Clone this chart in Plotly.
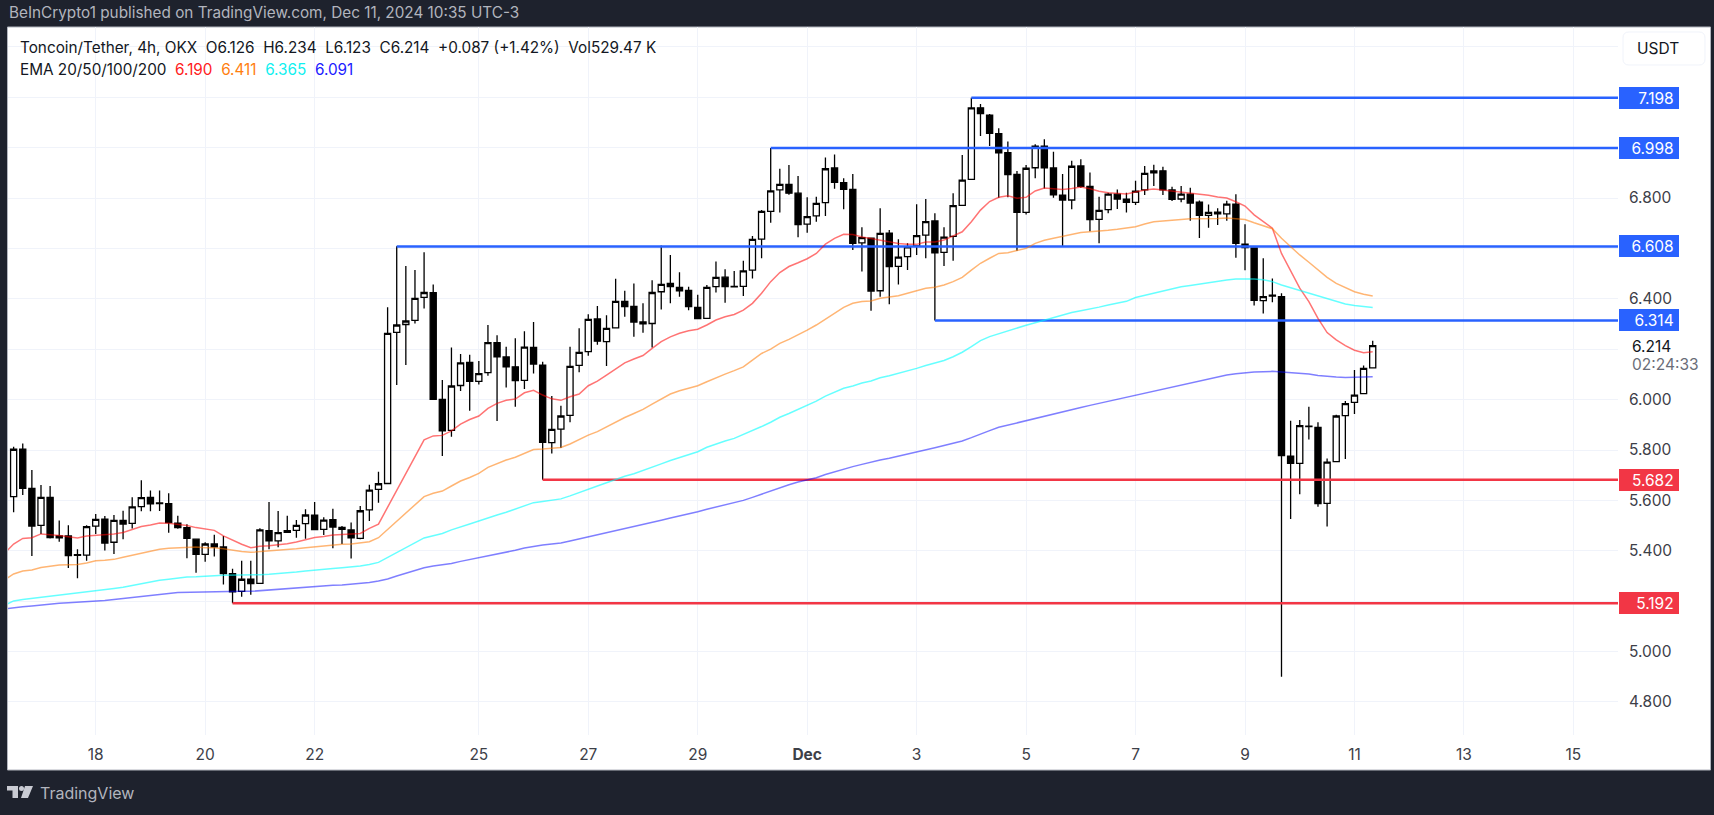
#!/usr/bin/python3
import pandas as pd
import plotly.graph_objects as go

# 4h candles
open_prices = [
    5.615, 5.803, 5.648, 5.501, 5.612, 5.459, 5.459, 5.385, 5.383, 5.498,
    5.526, 5.434, 5.521, 5.509, 5.575, 5.612, 5.590, 5.587, 5.510, 5.492,
    5.446, 5.386, 5.427, 5.415, 5.309, 5.239, 5.287, 5.271, 5.480, 5.439,
    5.480, 5.481, 5.508, 5.541, 5.485, 5.524, 5.493, 5.483, 5.449, 5.562,
    5.644, 5.667, 6.267, 6.298, 6.314, 6.406, 6.424, 6.001, 5.878, 6.056,
    6.148, 6.072, 6.107, 6.226, 6.169, 6.130, 6.076, 6.207, 6.137, 5.829,
    5.883, 5.937, 6.136, 6.190, 6.320, 6.230, 6.285, 6.390, 6.370, 6.308,
    6.302, 6.428, 6.461, 6.445, 6.433, 6.366, 6.322, 6.448, 6.486, 6.449,
    6.449, 6.514, 6.637, 6.747, 6.832, 6.854, 6.819, 6.696, 6.729, 6.782,
    6.919, 6.861, 6.834, 6.622, 6.641, 6.432, 6.661, 6.529, 6.567, 6.610,
    6.653, 6.709, 6.584, 6.648, 6.771, 6.874, 7.158, 7.129, 7.055, 6.980,
    6.894, 6.743, 6.920, 7.006, 6.919, 6.811, 6.792, 6.927, 6.846, 6.715,
    6.754, 6.815, 6.795, 6.783, 6.832, 6.900, 6.908, 6.832, 6.796, 6.815,
    6.784, 6.731, 6.744, 6.737, 6.776, 6.617, 6.602, 6.393, 6.414, 6.409,
    5.776, 5.747, 5.895, 5.890, 5.588, 5.754, 5.936, 5.989, 6.024, 6.126,
]
high_prices = [
    5.813, 5.826, 5.721, 5.661, 5.657, 5.520, 5.501, 5.406, 5.501, 5.546,
    5.538, 5.542, 5.559, 5.612, 5.680, 5.639, 5.639, 5.628, 5.539, 5.505,
    5.446, 5.434, 5.464, 5.459, 5.329, 5.360, 5.360, 5.489, 5.594, 5.558,
    5.539, 5.522, 5.565, 5.594, 5.533, 5.567, 5.498, 5.512, 5.578, 5.662,
    5.714, 6.366, 6.609, 6.530, 6.514, 6.585, 6.457, 6.078, 6.207, 6.181,
    6.178, 6.153, 6.296, 6.255, 6.210, 6.243, 6.271, 6.308, 6.150, 6.014,
    5.976, 6.210, 6.283, 6.339, 6.371, 6.335, 6.480, 6.432, 6.461, 6.382,
    6.474, 6.612, 6.574, 6.505, 6.448, 6.416, 6.455, 6.548, 6.517, 6.510,
    6.551, 6.649, 6.752, 6.998, 6.916, 6.931, 6.887, 6.803, 6.805, 6.961,
    6.973, 6.878, 6.895, 6.684, 6.643, 6.759, 6.673, 6.636, 6.620, 6.775,
    6.796, 6.739, 6.684, 6.819, 6.971, 7.198, 7.173, 7.133, 7.077, 7.024,
    6.907, 6.931, 7.013, 7.033, 6.984, 6.895, 6.948, 6.954, 6.901, 6.805,
    6.821, 6.834, 6.821, 6.868, 6.927, 6.932, 6.924, 6.845, 6.848, 6.841,
    6.790, 6.774, 6.759, 6.789, 6.815, 6.696, 6.603, 6.561, 6.481, 6.422,
    5.916, 5.919, 5.972, 5.910, 5.766, 5.940, 5.994, 6.117, 6.135, 6.234,
]
low_prices = [
    5.553, 5.621, 5.379, 5.467, 5.449, 5.436, 5.332, 5.291, 5.360, 5.467,
    5.401, 5.387, 5.446, 5.488, 5.557, 5.557, 5.558, 5.472, 5.487, 5.370,
    5.313, 5.357, 5.377, 5.266, 5.192, 5.218, 5.226, 5.268, 5.406, 5.414,
    5.472, 5.452, 5.448, 5.483, 5.463, 5.410, 5.427, 5.369, 5.446, 5.518,
    5.591, 5.667, 6.058, 6.137, 6.302, 6.362, 5.999, 5.776, 5.853, 6.034,
    5.956, 6.060, 6.095, 5.915, 6.048, 5.972, 6.042, 6.104, 5.682, 5.786,
    5.808, 5.910, 6.109, 6.174, 6.218, 6.133, 6.283, 6.329, 6.249, 6.265,
    6.207, 6.358, 6.382, 6.408, 6.355, 6.320, 6.321, 6.425, 6.384, 6.445,
    6.411, 6.481, 6.561, 6.702, 6.742, 6.813, 6.644, 6.662, 6.706, 6.729,
    6.837, 6.755, 6.594, 6.508, 6.353, 6.408, 6.378, 6.457, 6.514, 6.574,
    6.561, 6.314, 6.530, 6.551, 6.768, 6.872, 7.046, 7.006, 6.801, 6.803,
    6.591, 6.735, 6.878, 6.838, 6.801, 6.610, 6.755, 6.841, 6.668, 6.620,
    6.739, 6.756, 6.742, 6.772, 6.812, 6.848, 6.812, 6.788, 6.783, 6.710,
    6.641, 6.682, 6.693, 6.710, 6.563, 6.513, 6.373, 6.342, 6.386, 4.900,
    5.526, 5.624, 5.842, 5.575, 5.496, 5.751, 5.764, 5.943, 6.022, 6.123,
]
close_prices = [
    5.803, 5.648, 5.498, 5.612, 5.452, 5.451, 5.381, 5.382, 5.496, 5.525,
    5.431, 5.521, 5.506, 5.574, 5.611, 5.586, 5.587, 5.512, 5.492, 5.449,
    5.386, 5.427, 5.416, 5.309, 5.237, 5.287, 5.270, 5.483, 5.439, 5.472,
    5.473, 5.501, 5.542, 5.484, 5.522, 5.494, 5.485, 5.451, 5.559, 5.641,
    5.666, 6.263, 6.296, 6.312, 6.402, 6.425, 6.001, 5.876, 6.054, 6.146,
    6.072, 6.103, 6.226, 6.170, 6.130, 6.075, 6.208, 6.141, 5.830, 5.882,
    5.935, 6.132, 6.187, 6.318, 6.232, 6.283, 6.390, 6.369, 6.308, 6.301,
    6.425, 6.457, 6.448, 6.432, 6.369, 6.321, 6.445, 6.485, 6.448, 6.447,
    6.511, 6.636, 6.747, 6.828, 6.854, 6.819, 6.694, 6.726, 6.779, 6.916,
    6.862, 6.834, 6.620, 6.643, 6.431, 6.660, 6.528, 6.565, 6.606, 6.651,
    6.706, 6.582, 6.645, 6.770, 6.871, 7.158, 7.135, 7.057, 6.979, 6.893,
    6.743, 6.918, 7.006, 6.920, 6.813, 6.792, 6.926, 6.846, 6.714, 6.751,
    6.815, 6.796, 6.783, 6.827, 6.898, 6.908, 6.832, 6.795, 6.815, 6.780,
    6.731, 6.743, 6.737, 6.776, 6.620, 6.603, 6.394, 6.409, 6.411, 5.778,
    5.747, 5.897, 5.893, 5.587, 5.752, 5.935, 5.984, 6.018, 6.124, 6.214,
]

# EMAs start one bar earlier (clipped by the left edge), None = straight run
ema_20 = [
    5.390, 5.427, 5.449, 5.452, 5.467, 5.465, 5.461, 5.456, 5.451, 5.459,
    5.461, 5.463, 5.467, 5.473, 5.483, 5.496, 5.502, 5.510, 5.509, 5.504,
    5.500, 5.492, 5.487, 5.481, 5.459, 5.442, 5.426, 5.412, 5.418, 5.420,
    5.423, 5.428, 5.435, 5.444, 5.453, 5.457, 5.463, 5.465, 5.467, 5.469,
    5.489, 5.506, None, None, None, None, 5.840, 5.856, 5.858, 5.876,
    5.903, 5.921, 5.935, 5.965, 5.985, 5.997, 6.002, 6.027, 6.037, 6.018,
    6.003, 5.997, 6.011, 6.022, 6.055, 6.073, 6.097, 6.121, 6.146, 6.161,
    6.175, 6.203, 6.230, 6.249, 6.263, 6.273, 6.279, 6.296, 6.316, 6.329,
    6.338, 6.355, 6.382, 6.422, 6.468, 6.504, 6.528, 6.543, 6.559, 6.580,
    6.617, 6.640, 6.656, 6.655, 6.645, 6.639, 6.632, 6.625, 6.619, 6.616,
    6.616, 6.625, 6.625, 6.633, 6.649, 6.666, 6.706, 6.752, 6.786, 6.803,
    6.809, 6.799, 6.803, 6.828, 6.840, 6.837, 6.834, 6.838, 6.844, 6.837,
    6.827, 6.821, 6.819, 6.816, 6.824, 6.832, 6.836, 6.832, 6.828, 6.824,
    6.820, 6.816, 6.811, 6.804, 6.800, 6.785, 6.768, 6.733, 6.706, 6.680,
    6.580, 6.508, 6.442, 6.389, 6.322, 6.266, 6.237, 6.214, 6.196, 6.186, 6.190,
]
ema_50 = [
    5.284, 5.308, 5.320, 5.324, 5.334, 5.340, 5.344, 5.345, 5.346, 5.352,
    5.360, 5.362, 5.366, 5.374, 5.382, 5.390, 5.397, 5.406, 5.410, 5.412,
    5.415, 5.415, 5.412, 5.412, 5.408, 5.402, 5.397, 5.394, 5.397, 5.399,
    5.401, 5.403, 5.408, 5.412, 5.416, 5.419, 5.423, 5.426, 5.427, 5.430,
    5.436, 5.452, None, None, None, None, 5.615, 5.628, 5.637, 5.657,
    5.677, 5.691, 5.707, 5.731, 5.747, 5.760, 5.771, 5.786, 5.802, 5.804,
    5.806, 5.810, 5.824, 5.842, 5.859, 5.873, 5.892, 5.912, 5.929, 5.945,
    5.961, 5.982, 6.002, 6.022, 6.035, 6.044, 6.055, 6.071, 6.087, 6.101,
    6.115, 6.130, 6.157, 6.183, 6.200, 6.223, 6.239, 6.256, 6.276, 6.296,
    6.319, 6.340, 6.366, 6.382, 6.389, 6.391, 6.402, 6.407, 6.412, 6.422,
    6.432, 6.442, 6.446, 6.455, 6.468, 6.485, 6.514, 6.541, 6.561, 6.580,
    6.583, 6.592, 6.600, 6.620, 6.632, 6.640, 6.647, 6.657, 6.663, 6.666,
    6.668, 6.672, 6.676, 6.681, 6.686, 6.697, 6.706, 6.709, 6.713, 6.717,
    6.718, 6.718, 6.718, 6.719, 6.721, 6.719, 6.715, 6.702, 6.690, 6.678,
    6.640, 6.607, 6.574, 6.545, 6.514, 6.485, 6.461, 6.443, 6.428, 6.418, 6.411,
]
ema_100 = [
    5.184, 5.201, 5.207, 5.211, 5.218, 5.222, 5.226, 5.230, 5.233, 5.237,
    5.240, 5.244, 5.250, 5.255, 5.262, 5.270, 5.278, 5.283, 5.287, 5.292,
    5.296, 5.297, 5.300, 5.301, 5.303, 5.303, 5.303, 5.303, 5.305, 5.307,
    5.309, 5.312, 5.316, 5.320, 5.324, 5.328, 5.330, 5.333, 5.336, 5.340,
    5.346, 5.354, None, None, None, None, 5.451, 5.461, 5.469, 5.483,
    5.496, 5.506, 5.518, 5.531, 5.542, 5.553, 5.565, 5.578, 5.591, 5.596,
    5.600, 5.606, 5.618, 5.632, 5.644, 5.657, 5.670, 5.684, 5.696, 5.706,
    5.718, 5.731, 5.745, 5.758, 5.770, 5.782, 5.793, 5.811, 5.824, 5.836,
    5.846, 5.861, 5.875, 5.893, 5.910, 5.930, 5.945, 5.961, 5.978, 5.994,
    6.014, 6.030, 6.045, 6.054, 6.066, 6.074, 6.087, 6.095, 6.104, 6.114,
    6.124, 6.135, 6.144, 6.155, 6.170, 6.188, 6.210, 6.234, 6.250, 6.262,
    6.273, 6.284, 6.295, 6.305, 6.316, 6.326, 6.336, 6.346, 6.353, 6.359,
    6.367, 6.375, 6.383, 6.390, 6.405, 6.414, 6.424, 6.432, 6.440, 6.448,
    6.453, 6.459, 6.464, 6.469, 6.475, 6.479, 6.480, 6.479, 6.476, 6.468,
    6.455, 6.444, 6.432, 6.422, 6.409, 6.398, 6.387, 6.379, 6.373, 6.369, 6.365,
]
ema_200 = [
    5.169, 5.174, 5.178, 5.181, 5.185, 5.189, 5.192, 5.194, 5.196, 5.198,
    5.201, 5.203, 5.207, 5.211, 5.215, 5.219, 5.225, 5.229, 5.231, 5.234,
    5.235, 5.237, 5.238, 5.239, 5.239, 5.239, 5.239, 5.239, 5.242, 5.244,
    5.247, 5.250, 5.252, 5.255, 5.258, 5.260, 5.263, 5.264, 5.267, 5.270,
    5.274, 5.280, 5.288, 5.300, 5.311, 5.323, 5.333, 5.340, 5.344, 5.350,
    5.358, 5.365, 5.372, 5.379, 5.386, 5.394, 5.402, 5.411, 5.418, 5.423,
    5.427, 5.431, 5.439, 5.447, 5.455, 5.463, 5.471, 5.479, 5.487, 5.495,
    5.502, 5.512, 5.521, 5.530, 5.538, 5.546, 5.555, 5.565, 5.574, 5.582,
    5.591, 5.600, 5.612, 5.625, 5.639, 5.651, 5.662, 5.673, 5.681, 5.690,
    5.703, 5.714, 5.725, 5.734, 5.743, 5.750, 5.760, 5.767, 5.775, 5.783,
    5.791, 5.800, 5.809, 5.818, 5.826, 5.836, 5.849, 5.864, 5.877, 5.890,
    5.899, 5.907, 5.916, 5.927, 5.936, 5.944, 5.952, 5.961, 5.969, 5.977,
    5.985, 5.993, 6.001, 6.009, 6.017, 6.025, 6.034, 6.042, 6.049, 6.057,
    6.065, 6.072, 6.083, 6.091, 6.098, 6.103, 6.107, 6.110, 6.111, 6.112,
    6.110, 6.107, 6.104, 6.102, 6.096, 6.092, 6.090, 6.088, 6.088, 6.088, 6.091,
]

# support / resistance rays
level_prices = [7.198, 6.998, 6.608, 6.314, 5.682, 5.192]
level_starts = ['2024-12-04 00:00', '2024-11-30 08:00', '2024-11-23 12:00',
                '2024-12-03 08:00', '2024-11-26 04:00', '2024-11-20 12:00']
level_labels = ['7.198', '6.998', '6.608', '6.314', '5.682', '5.192']
level_colors = ['#2962ff', '#2962ff', '#2962ff', '#2962ff', '#f23645', '#f23645']

tick_dates = ['2024-11-18', '2024-11-20', '2024-11-22', '2024-11-25', '2024-11-27',
              '2024-11-29', '2024-12-01', '2024-12-03', '2024-12-05', '2024-12-07',
              '2024-12-09', '2024-12-11', '2024-12-13', '2024-12-15']
tick_names = ['18', '20', '22', '25', '27', '29', '<b>Dec</b>', '3', '5', '7', '9', '11', '13', '15']
price_ticks = [4.8, 5.0, 5.2, 5.4, 5.6, 5.8, 6.0, 6.2, 6.4, 6.6, 6.8, 7.0, 7.2, 7.4]
price_names = ['4.800', '5.000', '', '5.400', '5.600', '5.800', '6.000', '',
               '6.400', '', '6.800', '', '', '']

WIDTH, HEIGHT = 1714, 815
LEFT, RIGHT, TOP, BOTTOM = 8, 1618, 27, 735
FONT = 'Inter'
DARK = '#1e222d'
AXIS_SIZE = 15.5
X_START, X_END = '2024-11-16 09:32', '2024-12-15 19:34'

bars = pd.date_range('2024-11-16 12:00', periods=len(close_prices), freq='4h')
ema_bars = pd.date_range('2024-11-16 08:00', periods=len(ema_20), freq='4h')


def px(x):
    return (x - LEFT) / (RIGHT - LEFT)


def py(y):
    return (BOTTOM - y) / (BOTTOM - TOP)


def rounded(x0, y0, x1, y1, r):
    # rounded box in paper coordinates, from page pixels
    return ('M %f %f L %f %f Q %f %f %f %f L %f %f Q %f %f %f %f L %f %f Q %f %f %f %f L %f %f Q %f %f %f %f Z' % (
        px(x0 + r), py(y0), px(x1 - r), py(y0), px(x1), py(y0), px(x1), py(y0 + r),
        px(x1), py(y1 - r), px(x1), py(y1), px(x1 - r), py(y1),
        px(x0 + r), py(y1), px(x0), py(y1), px(x0), py(y1 - r),
        px(x0), py(y0 + r), px(x0), py(y0), px(x0 + r), py(y0)))


def label(x, y, text, size=14, color='#131722', **kw):
    fig.add_annotation(x=px(x), y=py(y), xref='paper', yref='paper', text=text, showarrow=False,
                       xanchor=kw.pop('xanchor', 'left'), yanchor='middle',
                       font=dict(family=FONT, size=size, color=color), **kw)


fig = go.Figure()

for price, start, color in zip(level_prices, level_starts, level_colors):
    fig.add_trace(go.Scatter(x=[start, X_END], y=[price, price], mode='lines',
                             line=dict(color=color, width=2.5)))

for values, color in [(ema_20, 'rgba(255,0,0,0.55)'), (ema_50, 'rgba(255,120,0,0.55)'),
                      (ema_100, 'rgba(0,255,255,0.6)'), (ema_200, 'rgba(0,0,255,0.5)')]:
    fig.add_trace(go.Scatter(x=ema_bars, y=values, mode='lines', connectgaps=True,
                             line=dict(color=color, width=1.5)))

fig.add_trace(go.Candlestick(
    x=bars, open=open_prices, high=high_prices, low=low_prices, close=close_prices,
    increasing=dict(fillcolor='#ffffff', line=dict(color='#000000', width=1.3)),
    decreasing=dict(fillcolor='#000000', line=dict(color='#000000', width=1.3)),
    whiskerwidth=0))

# white panel and frame behind the plot
fig.add_shape(type='rect', xref='paper', yref='paper', layer='below',
              x0=px(7.5), x1=px(1710.5), y0=py(27), y1=py(770),
              fillcolor='#ffffff', line=dict(color='#b2b5be', width=1))
# USDT button
fig.add_shape(type='path', xref='paper', yref='paper', path=rounded(1623, 32, 1705, 65, 6),
              fillcolor='#ffffff', line=dict(color='#f0f3fa', width=1))
# TradingView logo
for path_px in [[(7, 786), (18, 786), (18, 798), (12.5, 798), (12.5, 790.5), (7, 790.5)],
                [(25, 786), (33, 786), (28, 798), (21, 798)]]:
    path = 'M ' + ' L '.join('%f %f' % (px(a), py(b)) for a, b in path_px) + ' Z'
    fig.add_shape(type='path', xref='paper', yref='paper', path=path,
                  fillcolor='#c9cbd3', line=dict(width=0))
fig.add_shape(type='circle', xref='paper', yref='paper', x0=px(19), x1=px(24), y0=py(786), y1=py(791),
              fillcolor='#c9cbd3', line=dict(width=0))

for price, text, color in zip(level_prices, level_labels, level_colors):
    fig.add_annotation(x=px(1619), y=price, xref='paper', yref='y', text=text + '&nbsp;', showarrow=False,
                       xanchor='left', yanchor='middle', width=58, height=20, align='right',
                       bgcolor=color, borderpad=1, bordercolor=color, borderwidth=0,
                       font=dict(family=FONT, size=AXIS_SIZE, color='#ffffff'))

label(7, 13, 'BeInCrypto1 published on TradingView.com, Dec 11, 2024 10:35 UTC-3', 15.3, '#b2b5be')
label(17.5, 47.5, 'Toncoin/Tether, 4h, OKX&nbsp;&nbsp;O6.126&nbsp;&nbsp;H6.234&nbsp;&nbsp;L6.123&nbsp;&nbsp;C6.214'
      '&nbsp;&nbsp;+0.087 (+1.42%)&nbsp;&nbsp;Vol529.47 K', 15.3, '#131722')
label(17.5, 69.5, 'EMA 20/50/100/200&nbsp;&nbsp;<span style="color:#ff2020">6.190</span>&nbsp;&nbsp;'
      '<span style="color:#ff8010">6.411</span>&nbsp;&nbsp;<span style="color:#10f0f0">6.365</span>&nbsp;&nbsp;'
      '<span style="color:#2020ff">6.091</span>', 15.3, '#131722')
label(1635, 49, 'USDT', AXIS_SIZE, '#131722')
label(1630, 346, '6.214', AXIS_SIZE, '#131722')
label(1630, 364, '02:24:33', AXIS_SIZE, '#6a6d78')
label(38, 793, 'TradingView', 16, '#b2b5be')

fig.update_layout(
    width=WIDTH, height=HEIGHT, autosize=False, showlegend=False,
    paper_bgcolor=DARK, plot_bgcolor='rgba(0,0,0,0)', hovermode=False,
    boxgap=0.33, boxgroupgap=0,
    margin=dict(l=LEFT, r=WIDTH - RIGHT, t=TOP, b=HEIGHT - BOTTOM, pad=0),
    font=dict(family=FONT, size=14, color='#3d4048'),
    xaxis=dict(type='date', range=[X_START, X_END], rangeslider=dict(visible=False),
               tickmode='array', tickvals=tick_dates, ticktext=tick_names, tickangle=0,
               showgrid=True, gridcolor='#f0f3fa', gridwidth=1, zeroline=False, showline=False,
               ticks='', ticklabelstandoff=8, tickfont=dict(family=FONT, size=AXIS_SIZE, color='#3d4048')),
    yaxis=dict(side='right', range=[4.669, 7.4786], tickmode='array', tickvals=price_ticks,
               ticktext=price_names, showgrid=True, gridcolor='#f0f3fa', gridwidth=1,
               zeroline=False, showline=False, ticks='', ticklabelstandoff=10,
               tickfont=dict(family=FONT, size=AXIS_SIZE, color='#3d4048')),
)

fig.write_html("out.html", config=dict(displayModeBar=False),
               post_script="document.body.style.margin='0';")
